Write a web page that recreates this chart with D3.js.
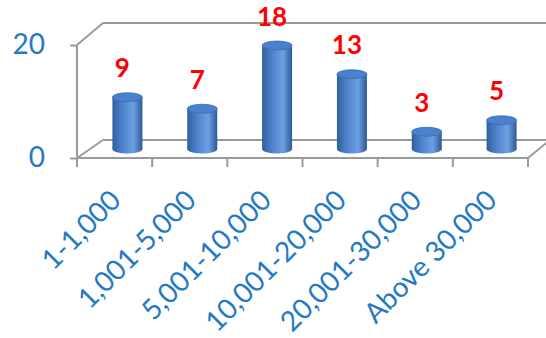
<!DOCTYPE html>
<html>
<head>
<meta charset="utf-8">
<script src="https://cdn.jsdelivr.net/npm/d3@7"></script>
<style>
  body { margin: 0; background: #fff; }
  svg { display: block; }
</style>
</head>
<body>
<script>
let w = 546;
let h = 338;

// data
const categories = ["1-1,000", "1,001-5,000", "5,001-10,000", "10,001-20,000", "20,001-30,000", "Above 30,000"];
const counts = [9, 7, 18, 13, 3, 5];
const yTicks = [0, 20];

let svg = d3.select("body")
            .append("svg")
            .attr("width", w)
            .attr("height", h);

// front plane and back plane of the 3d box
let xFront = d3.scaleBand(categories, [77, 528]);
let xBack = d3.scaleBand(categories, [103, 550]);
let yFront = d3.scaleLinear([0, 20], [158, 45]);
let yBack = d3.scaleLinear([0, 20], [140, 23]);
let yMid = d3.scaleLinear([0, 20], [149, 34]);

const lineColor = "#9a9a9a";
const blue = "#2479c4";

// gradient for the cylinders
let defs = svg.append("defs");
let grad = defs.append("linearGradient").attr("id", "cyl").attr("x1", 0).attr("x2", 1);
grad.append("stop").attr("offset", "0%").attr("stop-color", "#2f5f9f");
grad.append("stop").attr("offset", "35%").attr("stop-color", "#4f84cc");
grad.append("stop").attr("offset", "70%").attr("stop-color", "#6d9fe2");
grad.append("stop").attr("offset", "100%").attr("stop-color", "#2d5a96");

let frame = svg.append("g")
               .attr("stroke", lineColor)
               .attr("stroke-width", 2)
               .attr("fill", "none");

// back wall top gridline + floor back line
yTicks.forEach(t => {
    frame.append("line")
         .attr("x1", xBack.range()[0]).attr("x2", xBack.range()[1])
         .attr("y1", yBack(t)).attr("y2", yBack(t));
    frame.append("line")
         .attr("x1", xFront.range()[0]).attr("x2", xBack.range()[0])
         .attr("y1", yFront(t)).attr("y2", yBack(t));
});
// floor front edge + right side
frame.append("line")
     .attr("x1", xFront.range()[0]).attr("x2", xFront.range()[1])
     .attr("y1", yFront(0)).attr("y2", yFront(0));
frame.append("line")
     .attr("x1", xFront.range()[1]).attr("x2", xBack.range()[1])
     .attr("y1", yFront(0)).attr("y2", yBack(0));
// front vertical axis
frame.append("line")
     .attr("x1", xFront.range()[0]).attr("x2", xFront.range()[0])
     .attr("y1", yFront(0)).attr("y2", yFront(20));

// y axis
let yAxis = d3.axisLeft(yFront).tickValues(yTicks).tickSize(7).tickPadding(25);
let gy = svg.append("g")
            .attr("transform", `translate(${xFront.range()[0]},0)`)
            .call(yAxis);
gy.select(".domain").remove();
gy.selectAll(".tick line").attr("stroke", lineColor).attr("stroke-width", 2);
gy.selectAll(".tick text")
  .attr("fill", blue)
  .style("font-family", "Lato, 'Open Sans', sans-serif")
  .style("font-size", "28px");

// x ticks at band boundaries
let bounds = categories.map(c => xFront(c)).concat([xFront.range()[1]]);
svg.append("g")
   .selectAll("line")
   .data(bounds)
   .enter()
   .append("line")
   .attr("x1", d => d).attr("x2", d => d)
   .attr("y1", yFront(0)).attr("y2", yFront(0) + 9)
   .attr("stroke", lineColor)
   .attr("stroke-width", 2);

// x labels
let xAxis = d3.axisBottom(xFront).tickSize(0).tickPadding(0);
let gx = svg.append("g")
            .attr("transform", `translate(0,${yFront(0)})`)
            .call(xAxis);
gx.select(".domain").remove();
gx.selectAll(".tick text")
  .attr("fill", blue)
  .style("font-family", "Lato, 'Open Sans', sans-serif")
  .style("font-size", "28px")
  .attr("text-anchor", "end")
  .attr("dy", null)
  .attr("y", 0)
  .attr("transform", "translate(8,44) rotate(-45)");

// cylinders
const rx = 15, ry = 4.5;
const cx = c => (xFront(c) + xFront.bandwidth() / 2 + xBack(c) + xBack.bandwidth() / 2) / 2;

let bars = svg.append("g")
              .selectAll("g")
              .data(categories.map((c, i) => ({cat: c, v: counts[i]})))
              .enter()
              .append("g");

bars.append("ellipse")
    .attr("cx", d => cx(d.cat))
    .attr("cy", yMid(0))
    .attr("rx", rx).attr("ry", ry)
    .attr("fill", "url(#cyl)");
bars.append("rect")
    .attr("x", d => cx(d.cat) - rx)
    .attr("y", d => yMid(d.v))
    .attr("width", rx * 2)
    .attr("height", d => yMid(0) - yMid(d.v))
    .attr("fill", "url(#cyl)");
bars.append("ellipse")
    .attr("cx", d => cx(d.cat))
    .attr("cy", d => yMid(d.v))
    .attr("rx", rx).attr("ry", ry)
    .attr("fill", "#4a80cc")
    .attr("stroke", "#3a6db5")
    .attr("stroke-width", 0.8);

// value labels
bars.append("text")
    .text(d => d.v)
    .attr("x", d => cx(d.cat) - 5)
    .attr("y", d => yMid(d.v) - 20)
    .attr("text-anchor", "middle")
    .attr("fill", "#ff0000")
    .style("font-family", "Lato, sans-serif")
    .style("font-weight", "bold")
    .style("font-size", "26px");
</script>
</body>
</html>
